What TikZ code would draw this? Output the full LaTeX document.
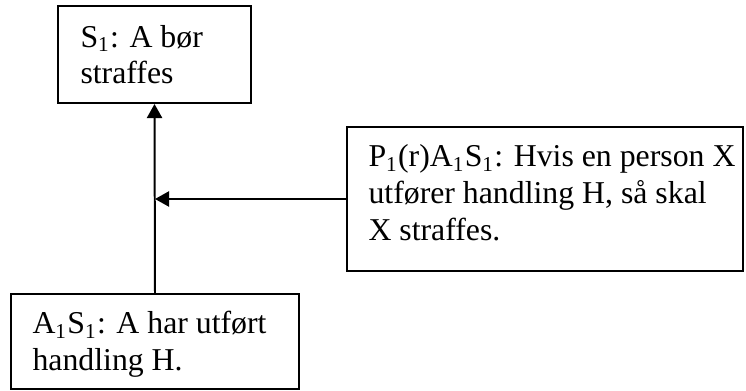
\documentclass[tikz,border=0pt]{standalone}
\usepackage{fontspec}
\setmainfont{Liberation Serif}
\usetikzlibrary{arrows.meta}
\begin{document}
\begin{tikzpicture}[x=0.3774pt,y=-0.3774pt,
  box/.style={draw, line width=0.75pt, inner sep=0pt},
  boxtext/.style={anchor=base west, inner sep=0pt, font=\fontsize{12pt}{13.8pt}\selectfont},
  link/.style={line width=0.75pt, -{Triangle[length=5.3pt,width=5.7pt]}}]
\useasboundingbox (0,0) rectangle (746,391);

% frames
\node[box, minimum width=193*0.3774pt, minimum height=97*0.3774pt] (s1) at (154.5,54.5) {};
\node[box, minimum width=396*0.3774pt, minimum height=144*0.3774pt] (p1) at (545,199) {};
\node[box, minimum width=288*0.3774pt, minimum height=95*0.3774pt] (a1) at (155,341.5) {};

% texts
\node[boxtext] (s1t) at (80,47) {\parbox[t]{150pt}{S\textsubscript{1}: A bør\\straffes}};
\node[boxtext] (p1t) at (368,167) {\parbox[t]{150pt}{P\textsubscript{1}(r)A\textsubscript{1}S\textsubscript{1}: Hvis en person X\\utfører handling H, så skal\\X straffes.}};
\node[boxtext] (a1t) at (32,334) {\parbox[t]{150pt}{A\textsubscript{1}S\textsubscript{1}: A har utført\\handling H.}};

% connectors
\coordinate (j) at (a1.north |- p1.west);
\draw[link] (a1.north) -- (s1.south);
\draw[link] (p1.west) -- (j);
\end{tikzpicture}
\end{document}
